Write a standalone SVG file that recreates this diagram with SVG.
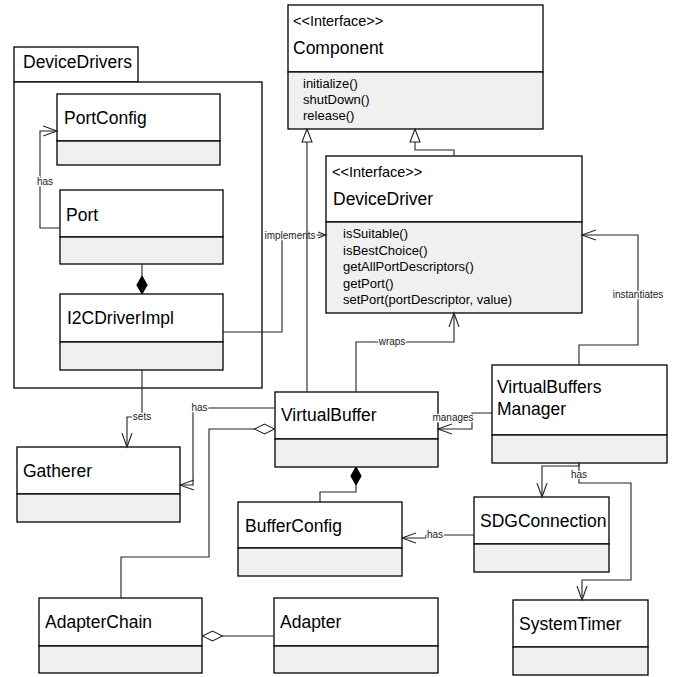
<svg xmlns="http://www.w3.org/2000/svg" width="675" height="677" viewBox="0 0 675 677">
<style>
.box{fill:#fff;stroke:#000;stroke-width:1.3}
.comp{fill:#f0f0f0;stroke:#000;stroke-width:1.3}
.name{font-family:"Liberation Sans",Arial,sans-serif;font-size:17.5px;fill:#000}
.ster{font-family:"Liberation Sans",Arial,sans-serif;font-size:14.5px;fill:#000}
.meth{font-family:"Liberation Sans",Arial,sans-serif;font-size:13px;fill:#000}
.lbl{font-family:"Liberation Sans",Arial,sans-serif;font-size:10px;fill:#222;stroke:#fff;stroke-width:2.5;paint-order:stroke;text-anchor:middle}
.ln{fill:none;stroke:#222;stroke-width:1.1}
.arr{marker-end:url(#open)}
</style>
<defs>
<marker id="open" markerWidth="16" markerHeight="12" refX="14" refY="6" orient="auto" markerUnits="userSpaceOnUse"><path d="M0,1 L14,6 L0,11" fill="none" stroke="#222" stroke-width="1.1"/></marker>
<marker id="openS" markerWidth="12" markerHeight="10" refX="9" refY="5" orient="auto" markerUnits="userSpaceOnUse"><path d="M1,2 L9,5 L1,8" fill="none" stroke="#222" stroke-width="1.1"/></marker>
<marker id="tri" markerWidth="15" markerHeight="12" refX="14" refY="6" orient="auto" markerUnits="userSpaceOnUse"><path d="M1,1 L14,6 L1,11 Z" fill="#fff" stroke="#222" stroke-width="1.1"/></marker>
<marker id="hdia" markerWidth="22" markerHeight="12" refX="0" refY="6" orient="auto" markerUnits="userSpaceOnUse"><path d="M0.5,6 L10.5,1 L20.5,6 L10.5,11 Z" fill="#fff" stroke="#222" stroke-width="1.1"/></marker>
<marker id="fdia" markerWidth="20" markerHeight="12" refX="0" refY="6" orient="auto" markerUnits="userSpaceOnUse"><path d="M0,6 L9,0.8 L18,6 L9,11.2 Z" fill="#000" stroke="#000" stroke-width="1"/></marker>
</defs>
<rect width="675" height="677" fill="#fff"/>

<g id="DeviceDrivers">
<rect class="box" x="14" y="47" width="124" height="35"/>
<rect class="box" x="14" y="82" width="248" height="306"/>
<text class="name" x="23" y="68">DeviceDrivers</text>
</g>

<g id="Component">
<rect class="box" x="288" y="5" width="255" height="67"/>
<rect class="comp" x="288" y="72" width="255" height="57"/>
<text class="ster" x="293" y="26">&lt;&lt;Interface&gt;&gt;</text>
<text class="name" x="293" y="54">Component</text>
<text class="meth" x="303" y="88">initialize()</text>
<text class="meth" x="303" y="104">shutDown()</text>
<text class="meth" x="303" y="120">release()</text>
</g>

<g id="DeviceDriver">
<rect class="box" x="326" y="156" width="256" height="66"/>
<rect class="comp" x="326" y="222" width="256" height="91"/>
<text class="ster" x="332" y="177">&lt;&lt;Interface&gt;&gt;</text>
<text class="name" x="333" y="205">DeviceDriver</text>
<text class="meth" x="343" y="238">isSuitable()</text>
<text class="meth" x="343" y="254.5">isBestChoice()</text>
<text class="meth" x="343" y="271">getAllPortDescriptors()</text>
<text class="meth" x="343" y="287.5">getPort()</text>
<text class="meth" x="343" y="304">setPort(portDescriptor, value)</text>
</g>

<g id="PortConfig">
<rect class="box" x="57" y="94" width="163" height="47"/>
<rect class="comp" x="57" y="141" width="163" height="24"/>
<text class="name" x="64" y="124">PortConfig</text>
</g>

<g id="Port">
<rect class="box" x="60" y="190" width="163" height="47"/>
<rect class="comp" x="60" y="237" width="163" height="27"/>
<text class="name" x="66" y="221">Port</text>
</g>

<g id="I2CDriverImpl">
<rect class="box" x="60" y="294" width="163" height="48"/>
<rect class="comp" x="60" y="342" width="163" height="28"/>
<text class="name" x="67" y="324">I2CDriverImpl</text>
</g>

<g id="VirtualBuffer">
<rect class="box" x="275" y="392" width="163" height="47"/>
<rect class="comp" x="275" y="439" width="163" height="28"/>
<text class="name" x="281" y="421">VirtualBuffer</text>
</g>

<g id="VirtualBuffersManager">
<rect class="box" x="492" y="365" width="175" height="70"/>
<rect class="comp" x="492" y="435" width="175" height="28"/>
<text class="name" x="497" y="393">VirtualBuffers</text>
<text class="name" x="497" y="415">Manager</text>
</g>

<g id="Gatherer">
<rect class="box" x="17" y="447" width="163" height="47"/>
<rect class="comp" x="17" y="494" width="163" height="28"/>
<text class="name" x="23" y="477">Gatherer</text>
</g>

<g id="BufferConfig">
<rect class="box" x="238" y="502" width="164" height="46"/>
<rect class="comp" x="238" y="548" width="164" height="28"/>
<text class="name" x="245" y="532">BufferConfig</text>
</g>

<g id="SDGConnection">
<rect class="box" x="474" y="497" width="135" height="47"/>
<rect class="comp" x="474" y="544" width="135" height="28"/>
<text class="name" x="480" y="527">SDGConnection</text>
</g>

<g id="AdapterChain">
<rect class="box" x="39" y="598" width="163" height="48"/>
<rect class="comp" x="39" y="646" width="163" height="27"/>
<text class="name" x="45" y="628">AdapterChain</text>
</g>

<g id="Adapter">
<rect class="box" x="274" y="598" width="164" height="48"/>
<rect class="comp" x="274" y="646" width="164" height="27"/>
<text class="name" x="280" y="628">Adapter</text>
</g>

<g id="SystemTimer">
<rect class="box" x="513" y="600" width="135" height="47"/>
<rect class="comp" x="513" y="647" width="135" height="28"/>
<text class="name" x="519" y="630">SystemTimer</text>
</g>

<g id="connectors">
<path class="ln arr" d="M60,228 H40 V131 H57"/>
<text class="lbl" x="45" y="185">has</text>
<path class="ln" marker-start="url(#fdia)" d="M142,294 V264"/>
<path class="ln" marker-end="url(#openS)" d="M223,332 H282 V235 H326"/>
<text class="lbl" x="290" y="238.5">implements</text>
<path class="ln arr" d="M142,370 V417 H127 V447"/>
<text class="lbl" x="142" y="420">sets</text>
<path class="ln" marker-end="url(#tri)" d="M307,392 V129"/>
<path class="ln" marker-end="url(#tri)" d="M454,156 V150 H415 V129"/>
<path class="ln arr" d="M356,392 V342 H454 V313"/>
<text class="lbl" x="392" y="345">wraps</text>
<path class="ln arr" d="M579,365 V345 H638 V235 H582"/>
<text class="lbl" x="638" y="298">instantiates</text>
<path class="ln arr" d="M492,413 H472 V429 H438"/>
<text class="lbl" x="453" y="420.5">manages</text>
<path class="ln arr" d="M275,408 H193 V485 H180"/>
<text class="lbl" x="199.5" y="411">has</text>
<path class="ln" marker-start="url(#hdia)" d="M275,429 H209 V557 H121 V598"/>
<path class="ln" marker-start="url(#fdia)" d="M356,467 V492 H320 V502"/>
<path class="ln" marker-start="url(#hdia)" d="M202,636 H274"/>
<path class="ln arr" d="M474,535 H426 V538 H402"/>
<text class="lbl" x="435" y="538">has</text>
<path class="ln arr" d="M579,463 V466 H542 V497"/>
<path class="ln arr" d="M579,463 V483 H631 V580 H582 V600"/>
<text class="lbl" x="579" y="478">has</text>
</g>
</svg>
